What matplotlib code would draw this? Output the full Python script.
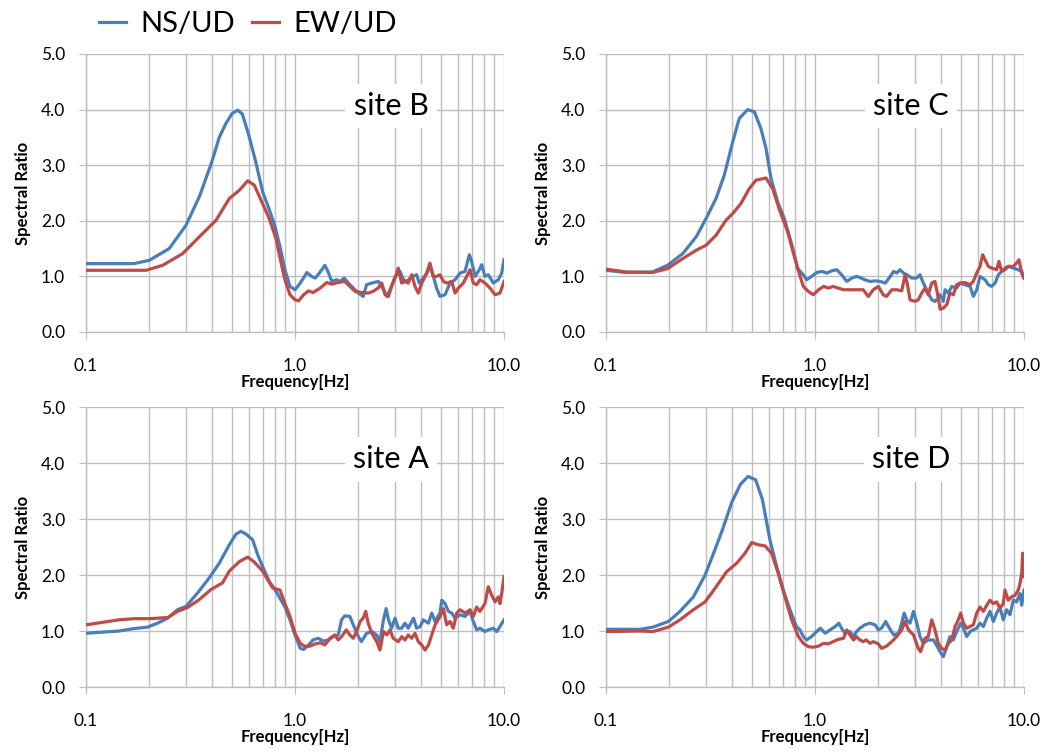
import matplotlib
matplotlib.use("Agg")
import matplotlib.pyplot as plt
from matplotlib.ticker import FixedLocator, LogLocator, NullFormatter

# ---------------- data ----------------
# site B
b_ns_f = [0.10, 0.17, 0.201, 0.25, 0.301, 0.35, 0.40, 0.434, 0.467, 0.50, 0.532, 0.56, 0.60, 0.65, 0.70, 0.75, 0.80,
          0.848, 0.895, 0.946, 1.00, 1.06, 1.14, 1.20, 1.25, 1.32, 1.39, 1.44, 1.50, 1.58, 1.64, 1.72, 1.80, 1.90,
          2.01, 2.12, 2.20, 2.33, 2.51, 2.65, 2.75, 2.85, 3.01, 3.18, 3.30, 3.42, 3.62, 3.82, 3.93, 4.11, 4.27,
          4.42, 4.59, 4.76, 4.94, 5.22, 5.52, 5.83, 6.16, 6.51, 6.83, 7.00, 7.27, 7.62, 7.82, 8.11, 8.41, 8.89,
          9.39, 9.75, 10.0]
b_ns_v = [1.23, 1.23, 1.29, 1.50, 1.92, 2.45, 3.06, 3.50, 3.75, 3.93, 3.99, 3.92, 3.55, 3.05, 2.52, 2.22, 1.92,
          1.53, 1.12, 0.82, 0.76, 0.88, 1.07, 1.00, 0.97, 1.08, 1.20, 1.08, 0.91, 0.94, 0.91, 0.97, 0.88, 0.79,
          0.70, 0.64, 0.85, 0.88, 0.91, 0.76, 0.64, 0.76, 0.99, 1.09, 0.94, 0.91, 0.99, 1.03, 0.88, 0.97, 1.06,
          1.18, 1.00, 0.79, 0.64, 0.67, 0.88, 0.94, 1.06, 1.09, 1.39, 1.27, 1.00, 1.12, 1.21, 1.00, 1.03, 0.88,
          0.94, 1.06, 1.30]
b_ew_f = [0.10, 0.194, 0.233, 0.29, 0.348, 0.419, 0.485, 0.542, 0.594, 0.639, 0.688, 0.753, 0.811,
          0.848, 0.895, 0.946, 1.00, 1.04, 1.10, 1.16, 1.22, 1.32, 1.42, 1.50, 1.61, 1.73, 1.83, 1.94, 2.08,
          2.24, 2.36, 2.50, 2.60, 2.70, 2.80, 2.90, 3.01, 3.12, 3.24, 3.36, 3.48, 3.62, 3.75, 3.89, 4.04, 4.27,
          4.42, 4.59, 4.76, 4.94, 5.13, 5.32, 5.62, 5.83, 6.05, 6.39, 6.88, 7.13, 7.40, 7.67, 8.11, 8.57, 9.06,
          9.57, 10.0]
b_ew_v = [1.11, 1.11, 1.20, 1.41, 1.71, 2.01, 2.40, 2.55, 2.72, 2.64, 2.37, 2.04, 1.68,
          1.33, 0.94, 0.67, 0.58, 0.56, 0.67, 0.74, 0.71, 0.79, 0.89, 0.86, 0.89, 0.91, 0.82, 0.73, 0.71,
          0.70, 0.73, 0.79, 0.88, 0.67, 0.64, 0.82, 0.97, 1.15, 0.88, 0.91, 0.88, 1.03, 0.82, 0.70, 0.88, 1.06,
          1.24, 1.00, 1.00, 1.03, 0.91, 0.88, 0.91, 0.70, 0.79, 0.88, 1.12, 0.88, 0.85, 0.94, 0.88, 0.79, 0.67,
          0.70, 0.91]

# site C
c_ns_f = [0.10, 0.125, 0.167, 0.197, 0.233, 0.27, 0.301, 0.336, 0.368, 0.404, 0.434, 0.476, 0.513, 0.551, 0.583,
          0.616, 0.663, 0.713, 0.768, 0.826,
          0.879, 0.912, 0.964, 1.02, 1.08, 1.14, 1.20, 1.27, 1.34, 1.42, 1.50, 1.58, 1.64, 1.73, 1.83, 1.94,
          2.05, 2.17, 2.29, 2.38, 2.46, 2.55, 2.65, 2.75, 2.90, 3.06, 3.18, 3.30, 3.48, 3.62, 3.75, 3.89, 3.97,
          4.11, 4.19, 4.35, 4.51, 4.76, 4.94, 5.22, 5.52, 5.72, 5.94, 6.16, 6.51, 6.75, 7.00, 7.27, 7.54, 7.82,
          8.11, 8.41, 8.89, 9.39, 9.75, 10.0]
c_ns_v = [1.11, 1.07, 1.08, 1.20, 1.41, 1.71, 2.04, 2.40, 2.82, 3.42, 3.84, 4.00, 3.96, 3.66, 3.30,
          2.76, 2.34, 2.04, 1.62, 1.14,
          1.03, 0.94, 1.00, 1.07, 1.09, 1.06, 1.10, 1.12, 1.03, 0.91, 0.97, 1.00, 0.98, 0.94, 0.91, 0.92,
          0.91, 0.88, 1.00, 1.09, 1.06, 1.12, 1.06, 1.03, 0.97, 0.97, 1.03, 0.88, 0.70, 0.58, 0.55, 0.61, 0.67,
          0.55, 0.76, 0.70, 0.82, 0.79, 0.88, 0.85, 0.82, 0.64, 0.76, 1.00, 0.94, 0.85, 0.82, 0.88, 1.03, 1.09,
          1.15, 1.18, 1.15, 1.12, 1.09, 0.97]
c_ew_f = [0.10, 0.125, 0.167, 0.197, 0.233, 0.27, 0.301, 0.336, 0.375, 0.404, 0.442, 0.485, 0.522, 0.583,
          0.627, 0.673, 0.74, 0.794, 0.841,
          0.879, 0.929, 0.981, 1.04, 1.10, 1.16, 1.22, 1.29, 1.37, 1.47, 1.58, 1.70, 1.80, 1.90, 2.01, 2.12,
          2.20, 2.33, 2.46, 2.60, 2.70, 2.77, 2.85, 3.01, 3.12, 3.24, 3.36, 3.48, 3.62, 3.75, 3.85, 3.97, 4.11,
          4.27, 4.42, 4.59, 4.76, 4.94, 5.22, 5.52, 5.72, 5.94, 6.16, 6.34, 6.51, 6.75, 7.00, 7.40, 7.59, 7.82,
          8.11, 8.41, 8.89, 9.22, 9.46, 9.75, 10.0]
c_ew_v = [1.13, 1.08, 1.07, 1.14, 1.32, 1.47, 1.56, 1.74, 2.01, 2.13, 2.31, 2.58, 2.73, 2.77,
          2.58, 2.22, 1.80, 1.38, 1.05,
          0.82, 0.73, 0.67, 0.76, 0.82, 0.79, 0.82, 0.79, 0.76, 0.76, 0.76, 0.76, 0.64, 0.76, 0.82, 0.67,
          0.64, 0.76, 0.76, 0.74, 1.03, 0.85, 0.58, 0.55, 0.58, 0.70, 0.79, 0.67, 0.88, 0.91, 0.70, 0.41, 0.43,
          0.49, 0.70, 0.67, 0.85, 0.88, 0.89, 0.85, 0.91, 1.06, 1.18, 1.39, 1.30, 1.18, 1.15, 1.12, 1.27, 1.09,
          1.12, 1.18, 1.18, 1.24, 1.30, 1.06, 0.97]

# site A
a_ns_f = [0.10, 0.144, 0.167, 0.197, 0.22, 0.246, 0.274, 0.301, 0.342, 0.389, 0.434, 0.485, 0.522, 0.551,
          0.583, 0.627, 0.663, 0.70, 0.752, 0.811, 0.848, 0.895,
          0.946, 1.00, 1.06, 1.10, 1.16, 1.22, 1.29, 1.37, 1.44, 1.53, 1.61, 1.67, 1.73, 1.83, 1.90, 2.01,
          2.08, 2.20, 2.33, 2.46, 2.55, 2.65, 2.73, 2.80, 2.90, 3.01, 3.12, 3.24, 3.36, 3.48, 3.69, 3.82, 3.97,
          4.11, 4.35, 4.51, 4.68, 4.94, 5.04, 5.22, 5.42, 5.62, 5.83, 6.16, 6.51, 6.88, 7.13, 7.40, 7.67, 8.11,
          8.41, 8.89, 9.22, 9.57, 10.0]
a_ns_v = [0.96, 1.00, 1.04, 1.07, 1.14, 1.23, 1.38, 1.44, 1.68, 1.95, 2.21, 2.54, 2.73, 2.78,
          2.73, 2.63, 2.36, 2.15, 1.89, 1.71, 1.58, 1.43,
          1.20, 0.93, 0.69, 0.67, 0.75, 0.84, 0.87, 0.82, 0.84, 0.90, 0.93, 1.20, 1.27, 1.26, 1.11, 0.90,
          0.81, 0.96, 0.99, 0.93, 0.81, 1.20, 1.40, 1.20, 1.05, 1.23, 1.05, 1.05, 1.14, 1.05, 1.23, 1.05, 1.08,
          1.20, 1.14, 1.32, 1.17, 1.32, 1.55, 1.49, 1.35, 1.32, 1.23, 1.29, 1.26, 1.35, 1.17, 1.02, 1.05, 0.99,
          1.02, 1.05, 0.99, 1.08, 1.20]
a_ew_f = [0.10, 0.144, 0.17, 0.20, 0.246, 0.274, 0.306, 0.348, 0.396, 0.45, 0.485, 0.542, 0.594, 0.639,
          0.70, 0.781, 0.848, 0.895,
          0.946, 1.00, 1.06, 1.12, 1.18, 1.25, 1.32, 1.39, 1.47, 1.55, 1.61, 1.67, 1.76, 1.83, 1.90, 1.97, 2.05,
          2.12, 2.18, 2.24, 2.33, 2.46, 2.55, 2.65, 2.75, 2.85, 2.95, 3.12, 3.24, 3.36, 3.48, 3.62, 3.75, 3.89,
          4.04, 4.19, 4.35, 4.51, 4.68, 4.94, 5.13, 5.32, 5.52, 5.72, 5.94, 6.16, 6.51, 6.88, 7.13, 7.40, 7.67,
          8.11, 8.41, 8.73, 9.06, 9.39, 9.57, 9.75, 10.0]
a_ew_v = [1.11, 1.20, 1.22, 1.22, 1.24, 1.35, 1.42, 1.56, 1.74, 1.86, 2.07, 2.24, 2.32, 2.23,
          2.07, 1.77, 1.73, 1.49,
          1.26, 0.96, 0.78, 0.72, 0.73, 0.77, 0.79, 0.75, 0.87, 0.93, 0.84, 0.90, 1.02, 0.93, 0.87, 0.99, 1.17,
          1.23, 1.35, 1.14, 0.96, 0.81, 0.66, 0.99, 0.93, 1.02, 0.87, 0.81, 0.90, 0.84, 0.93, 0.87, 0.96, 0.81,
          0.75, 0.66, 0.75, 0.93, 1.11, 1.26, 1.40, 1.11, 1.17, 1.05, 1.32, 1.38, 1.32, 1.38, 1.26, 1.43, 1.35,
          1.49, 1.79, 1.64, 1.52, 1.61, 1.49, 1.67, 1.97]

# site D
d_ns_f = [0.10, 0.145, 0.168, 0.199, 0.226, 0.262, 0.298, 0.332, 0.36, 0.40, 0.44, 0.478, 0.52, 0.56, 0.609,
          0.656, 0.705, 0.759, 0.815,
          0.848, 0.879, 0.911, 0.963, 1.018, 1.06, 1.12, 1.18, 1.25, 1.30, 1.34, 1.39, 1.47, 1.53, 1.58, 1.64,
          1.73, 1.83, 1.94, 2.01, 2.08, 2.18, 2.27, 2.38, 2.51, 2.60, 2.67, 2.75, 2.85, 2.96, 3.07, 3.18, 3.30,
          3.48, 3.69, 3.85, 3.97, 4.11, 4.27, 4.42, 4.59, 4.76, 4.98, 5.13, 5.32, 5.52, 5.72, 5.94, 6.16, 6.39,
          6.63, 6.88, 7.13, 7.40, 7.67, 7.96, 8.26, 8.57, 8.89, 9.22, 9.57, 9.75, 10.0]
d_ns_v = [1.03, 1.03, 1.07, 1.17, 1.35, 1.61, 2.00, 2.45, 2.80, 3.30, 3.62, 3.76, 3.70, 3.35, 2.62,
          2.15, 1.73, 1.38, 1.08,
          1.02, 0.90, 0.84, 0.90, 0.99, 1.05, 0.96, 1.02, 1.08, 1.14, 1.05, 0.96, 0.99, 0.90, 0.99, 1.05,
          1.11, 1.14, 1.11, 1.02, 1.05, 1.17, 1.05, 0.93, 0.96, 1.14, 1.32, 1.20, 1.14, 1.35, 1.14, 0.90, 0.78,
          0.84, 0.84, 0.72, 0.63, 0.54, 0.72, 0.90, 0.84, 0.99, 1.14, 1.05, 0.90, 0.99, 1.02, 1.05, 1.14, 1.08,
          1.23, 1.35, 1.17, 1.32, 1.43, 1.20, 1.38, 1.29, 1.55, 1.52, 1.67, 1.46, 1.73]
d_ew_f = [0.10, 0.145, 0.168, 0.199, 0.226, 0.262, 0.298, 0.332, 0.378, 0.422, 0.463, 0.498, 0.535, 0.576,
          0.62, 0.667, 0.718, 0.773, 0.833,
          0.879, 0.929, 0.981, 1.04, 1.10, 1.16, 1.22, 1.29, 1.37, 1.42, 1.47, 1.53, 1.58, 1.64, 1.70, 1.76,
          1.83, 1.90, 2.01, 2.08, 2.20, 2.33, 2.46, 2.60, 2.70, 2.80, 2.96, 3.12, 3.20, 3.36, 3.48, 3.62, 3.75,
          3.89, 4.04, 4.19, 4.35, 4.51, 4.68, 4.85, 4.98, 5.13, 5.32, 5.52, 5.72, 5.94, 6.16, 6.39, 6.63, 6.88,
          7.13, 7.40, 7.67, 7.96, 8.11, 8.41, 8.73, 9.06, 9.39, 9.57, 9.75, 9.85, 10.0]
d_ew_v = [0.99, 1.00, 0.99, 1.07, 1.20, 1.38, 1.52, 1.76, 2.06, 2.21, 2.39, 2.58, 2.54, 2.52,
          2.39, 2.03, 1.61, 1.20, 0.90,
          0.78, 0.72, 0.71, 0.73, 0.78, 0.77, 0.81, 0.85, 0.87, 1.02, 0.93, 0.84, 0.90, 0.84, 0.81, 0.84,
          0.78, 0.81, 0.77, 0.69, 0.73, 0.81, 0.90, 1.02, 1.17, 1.02, 0.93, 0.69, 0.63, 0.87, 0.90, 1.20, 1.02,
          0.78, 0.69, 0.66, 0.78, 0.84, 1.08, 1.20, 1.32, 1.14, 1.05, 1.08, 1.11, 1.32, 1.43, 1.35, 1.46, 1.55,
          1.49, 1.52, 1.41, 1.49, 1.73, 1.55, 1.61, 1.64, 1.73, 1.85, 2.03, 2.39, 1.97]

sites = ["site B", "site C", "site A", "site D"]
series = [(b_ns_f, b_ns_v, b_ew_f, b_ew_v),
          (c_ns_f, c_ns_v, c_ew_f, c_ew_v),
          (a_ns_f, a_ns_v, a_ew_f, a_ew_v),
          (d_ns_f, d_ns_v, d_ew_f, d_ew_v)]
legend_labels = ["NS/UD", "EW/UD"]
y_ticks = [0.0, 1.0, 2.0, 3.0, 4.0, 5.0]
x_ticks = [0.1, 1.0, 10.0]
x_tick_labels = ["0.1", "1.0", "10.0"]

# ---------------- style ----------------
plt.rcParams['font.family'] = ['Lato', 'DejaVu Sans']
BLUE = "#4A7EBB"
RED = "#BE4B48"
GRID = "#BFBFBF"

fig = plt.figure(figsize=(10.44, 7.54), dpi=100)
W, H = 1044.0, 754.0
pos = [(86, 54, 332), (606, 54, 332), (86, 407, 687), (606, 407, 687)]
axes = []
for (x0, ytop, ybot) in pos:
    ax = fig.add_axes([x0 / W, 1 - ybot / H, 418 / W, (ybot - ytop) / H])
    axes.append(ax)

for ax, site, (nf, nv, ef, ev) in zip(axes, sites, series):
    ax.set_xscale("log")
    ax.set_xlim(0.1, 10.0)
    ax.set_ylim(0.0, 5.0)
    l1, = ax.plot(nf, nv, color=BLUE, lw=2.3, zorder=3, solid_joinstyle="round")
    l2, = ax.plot(ef, ev, color=RED, lw=2.3, zorder=3, solid_joinstyle="round")
    ax.xaxis.set_major_locator(FixedLocator(x_ticks))
    ax.set_xticklabels(x_tick_labels)
    ax.xaxis.set_minor_locator(LogLocator(base=10, subs=range(2, 10)))
    ax.xaxis.set_minor_formatter(NullFormatter())
    ax.set_yticks(y_ticks)
    ax.set_yticklabels([f"{t:.1f}" for t in y_ticks])
    ax.grid(True, which="both", axis="x", color=GRID, lw=1.0, zorder=0)
    ax.grid(True, which="major", axis="y", color=GRID, lw=1.0, zorder=0)
    for s in ["top", "right"]:
        ax.spines[s].set_visible(False)
    for s in ["left", "bottom"]:
        ax.spines[s].set_color(GRID)
        ax.spines[s].set_linewidth(1.0)
    ax.tick_params(axis="both", which="major", length=5, color=GRID, labelsize=12.5,
                   labelcolor="black")
    ax.tick_params(axis="y", which="major", pad=10)
    ax.tick_params(axis="x", which="minor", length=0)
    ax.tick_params(axis="x", which="major", pad=14)
    ax.set_xlabel("Frequency[Hz]", fontsize=12, fontweight="bold", labelpad=0)
    ax.set_ylabel("Spectral Ratio", fontsize=12, fontweight="bold", labelpad=7)
    ax.text(0.73, 0.813, site, transform=ax.transAxes, fontsize=22, ha="center", va="center",
            zorder=2, bbox=dict(facecolor="white", edgecolor="none", pad=6))
    ax.set_axisbelow(True)

fig.legend([l1, l2], legend_labels, loc="upper left", bbox_to_anchor=(0.07, 1.02), ncol=2,
           frameon=False, fontsize=21, handlelength=0.9, handletextpad=0.5, columnspacing=0.6)

fig.savefig("out.png", dpi=100)
